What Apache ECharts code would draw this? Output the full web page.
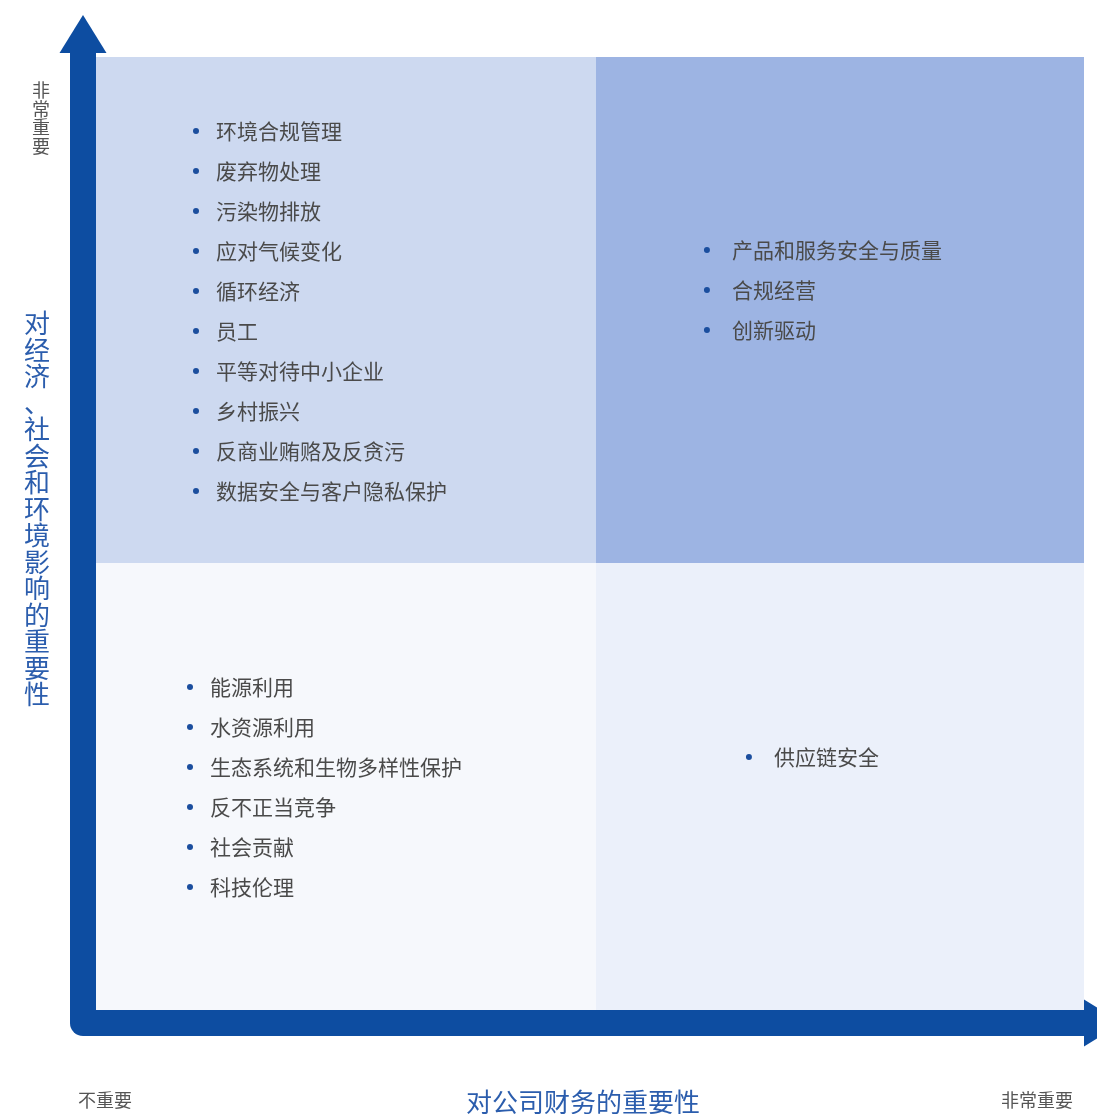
<!DOCTYPE html>
<html><head><meta charset="utf-8">
<script src="https://cdn.jsdelivr.net/npm/echarts@6/dist/echarts.min.js"></script>
<style>html,body{margin:0;padding:0;background:#fff}#c{width:1097px;height:1114px}</style>
</head><body><div id="c"></div>
<script>
// ---- data ----
const xTitle = '对公司财务的重要性';
const yTitle = '对经济、社会和环境影响的重要性';
const xEndLabels = ['不重要', '非常重要'];
const yEndLabels = ['非常重要'];
const axisRange = [0, 100];
const xSplit = 50.6;   // financial materiality threshold
const ySplit = 46.9;   // impact materiality threshold
const topLeftItems = ['环境合规管理', '废弃物处理', '污染物排放', '应对气候变化', '循环经济', '员工', '平等对待中小企业', '乡村振兴', '反商业贿赂及反贪污', '数据安全与客户隐私保护'];
const topRightItems = ['产品和服务安全与质量', '合规经营', '创新驱动'];
const bottomLeftItems = ['能源利用', '水资源利用', '生态系统和生物多样性保护', '反不正当竞争', '社会贡献', '科技伦理'];
const bottomRightItems = ['供应链安全'];

// ---- derived ----
const quadrants = [
  [axisRange[0], xSplit, ySplit, axisRange[1]],
  [xSplit, axisRange[1], ySplit, axisRange[1]],
  [axisRange[0], xSplit, axisRange[0], ySplit],
  [xSplit, axisRange[1], axisRange[0], ySplit]
];
const quadColors = ['#CDD9F0', '#9DB4E3', '#F6F8FC', '#EBF0FA'];
const itemLists = [topLeftItems, topRightItems, bottomLeftItems, bottomRightItems];
const listLayout = [
  { dx: 100, dy: 74, gap: 20 },
  { dx: 111, dy: 193, gap: 25 },
  { dx: 94, dy: 124, gap: 20 },
  { dx: 153, dy: 194, gap: 25 }
];
const rowStep = 40;
const entries = [];
itemLists.forEach((list, q) => list.forEach((name, i) => entries.push({ value: [q, i], name })));

const BLUE = '#0D4DA1';
const FONT = '"Noto Sans CJK SC", "Noto Sans", sans-serif';
const chart = echarts.init(document.getElementById('c'));
chart.setOption({
  animation: false,
  grid: { left: 96, top: 57, right: 13, bottom: 104 },
  xAxis: {
    type: 'value', min: axisRange[0], max: axisRange[1], offset: 13, position: 'bottom', z: 4,
    axisLine: { show: true, onZero: false, symbol: ['none', 'triangle'], symbolSize: [47, 38], symbolOffset: [0, 19],
      lineStyle: { color: BLUE, width: 26, cap: 'square' } },
    axisTick: { show: false }, axisLabel: { show: false }, splitLine: { show: false }
  },
  yAxis: {
    type: 'value', min: axisRange[0], max: axisRange[1], offset: 13, position: 'left', z: 4,
    axisLine: { show: true, onZero: false, symbol: ['none', 'triangle'], symbolSize: [47, 38], symbolOffset: [0, 23],
      lineStyle: { color: BLUE, width: 26, cap: 'square' } },
    axisTick: { show: false }, axisLabel: { show: false }, splitLine: { show: false }
  },
  graphic: [
    { type: 'text', x: 37, y: 509, style: { text: yTitle.split('').join('\n'), font: '26px ' + FONT, lineHeight: 26.5, fill: '#2B5DAD', textAlign: 'center', textVerticalAlign: 'middle' } },
    { type: 'text', x: 41, y: 118, style: { text: yEndLabels[0].split('').join('\n'), font: '18px ' + FONT, lineHeight: 18.5, fill: '#555', textAlign: 'center', textVerticalAlign: 'middle' } },
    { type: 'text', x: 583, y: 1102, style: { text: xTitle, font: '26px ' + FONT, fill: '#2B5DAD', textAlign: 'center', textVerticalAlign: 'middle' } },
    { type: 'text', x: 78, y: 1100, style: { text: xEndLabels[0], font: '18px ' + FONT, fill: '#555', textAlign: 'left', textVerticalAlign: 'middle' } },
    { type: 'text', x: 1073, y: 1100, style: { text: xEndLabels[1], font: '18px ' + FONT, fill: '#555', textAlign: 'right', textVerticalAlign: 'middle' } }
  ],
  series: [
    {
      type: 'custom', name: 'quadrants', data: quadrants, z: 1,
      renderItem(params, api) {
        const p0 = api.coord([api.value(0), api.value(3)]);
        const p1 = api.coord([api.value(1), api.value(2)]);
        return { type: 'rect', shape: { x: p0[0], y: p0[1], width: p1[0] - p0[0], height: p1[1] - p0[1] },
          style: { fill: quadColors[params.dataIndex] } };
      }
    },
    {
      type: 'custom', name: 'corner', data: [[axisRange[0], axisRange[0]]], clip: false, z: 5,
      renderItem(params, api) {
        const p = api.coord([api.value(0), api.value(1)]);
        return { type: 'sector', shape: { cx: p[0] - 13, cy: p[1] + 13, r: 13, r0: 0, startAngle: Math.PI / 2, endAngle: Math.PI, clockwise: true },
          style: { fill: BLUE } };
      }
    },
    {
      type: 'custom', name: 'items', data: entries, z: 3,
      renderItem(params, api) {
        const q = api.value(0), i = api.value(1);
        const b = quadrants[q], L = listLayout[q];
        const tl = api.coord([b[0], b[3]]);
        const x = tl[0] + L.dx, y = tl[1] + L.dy + i * rowStep;
        return { type: 'group', children: [
          { type: 'circle', shape: { cx: x, cy: y, r: 3 }, style: { fill: '#1B4E9E' } },
          { type: 'text', style: { x: x + L.gap, y: y, text: entries[params.dataIndex].name, font: '21px ' + FONT, fill: '#4A4A4A', textAlign: 'left', textVerticalAlign: 'middle' } }
        ] };
      }
    }
  ]
});
</script></body></html>
